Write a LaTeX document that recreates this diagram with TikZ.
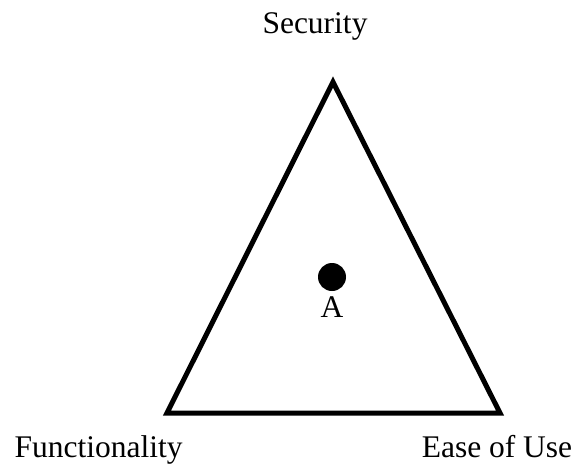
\documentclass[tikz,border=0pt]{standalone}
\usepackage{fontspec}
\setmainfont{Liberation Serif}
\begin{document}
\begin{tikzpicture}[x=1pt,y=-1pt,
  lbl/.style={anchor=base,inner sep=0pt,font=\fontsize{31.5}{37}\selectfont},
  edge/.style={line width=5pt,line join=miter}]
\useasboundingbox (0,0) rectangle (574,466);
% corners of the triangle
\coordinate (top) at (333,82);
\coordinate (bl) at (167,413);
\coordinate (br) at (500,413);
\draw[edge] (top) -- (bl) -- (br) -- cycle;
% point inside
\fill (332,277) circle (14);
\node[lbl] (a) at (332,317) {A};
% corner labels
\node[lbl] (sec) at (315,33) {Security};
\node[lbl] (fun) at (98.5,457) {Functionality};
\node[lbl] (ease) at (497,457) {Ease of Use};
\end{tikzpicture}
\end{document}
